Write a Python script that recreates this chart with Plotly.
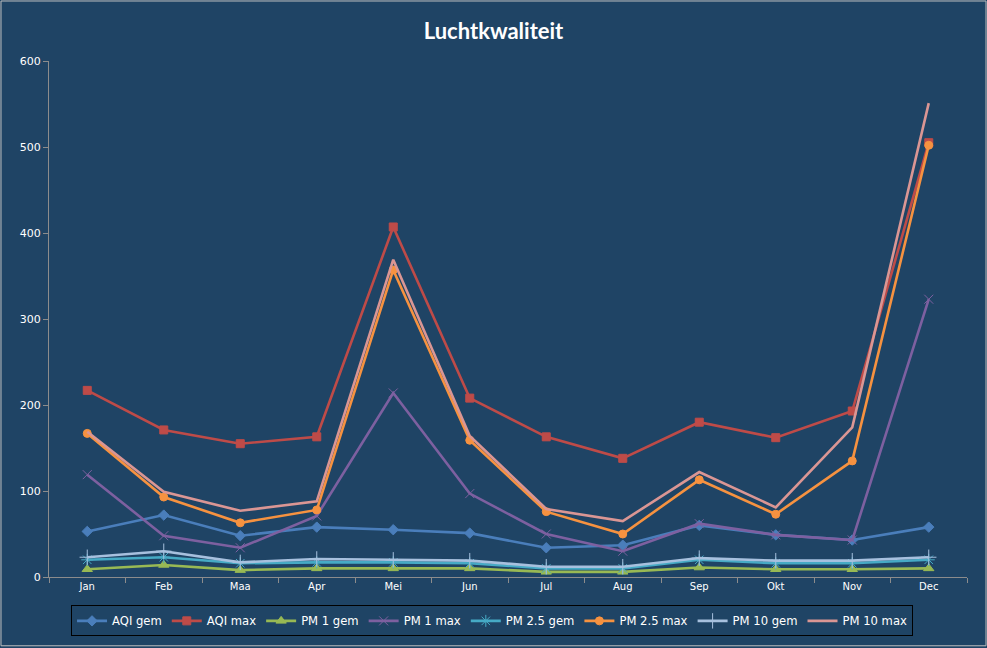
import plotly.graph_objects as go

months = ["Jan", "Feb", "Maa", "Apr", "Mei", "Jun", "Jul", "Aug", "Sep", "Okt", "Nov", "Dec"]

aqi_gem = [53, 72, 48, 58, 55, 51, 34, 37, 60, 49, 43, 58]
aqi_max = [217, 171, 155, 163, 407, 208, 163, 138, 180, 162, 193, 505]
pm1_gem = [9, 14, 8, 10, 10, 10, 6, 6, 11, 9, 9, 10]
pm1_max = [119, 48, 34, 71, 214, 97, 50, 30, 62, 49, 43, 323]
pm25_gem = [20, 23, 16, 17, 17, 16, 10, 10, 20, 16, 16, 20]
pm25_max = [167, 93, 63, 78, 357, 159, 76, 50, 113, 73, 135, 502]
pm10_gem = [23, 30, 17, 21, 20, 19, 12, 12, 22, 19, 19, 23]
pm10_max = [169, 99, 77, 88, 369, 164, 79, 65, 122, 81, 174, 551]

series = [
    ("AQI gem", aqi_gem, "#4A7EBB", "diamond", 8),
    ("AQI max", aqi_max, "#BE4B48", "square", 8),
    ("PM 1 gem", pm1_gem, "#98B954", "triangle-up", 9),
    ("PM 1 max", pm1_max, "#7D60A0", "x-thin-open", 9),
    ("PM 2.5 gem", pm25_gem, "#46AAC5", "asterisk-open", 10),
    ("PM 2.5 max", pm25_max, "#F69240", "circle", 8),
    ("PM 10 gem", pm10_gem, "#A7C0DE", "cross-thin-open", 11),
    ("PM 10 max", pm10_max, "#DA9694", None, 0),
]

fig = go.Figure()
for name, vals, col, sym, sz in series:
    if sym is None:
        fig.add_trace(go.Scatter(x=months, y=vals, name=name, mode="lines",
                                 line=dict(color=col, width=2.6)))
    else:
        fig.add_trace(go.Scatter(x=months, y=vals, name=name, mode="lines+markers",
                                 line=dict(color=col, width=2.6),
                                 marker=dict(symbol=sym, size=sz, color=col,
                                             line=dict(color=col, width=1))))

bg = "#1F4465"
fig.update_layout(
    width=987, height=648,
    paper_bgcolor=bg, plot_bgcolor=bg,
    margin=dict(l=49, r=20, t=61, b=71),
    title=dict(text="<b>Luchtkwaliteit</b>", x=0.5, xanchor="center", y=0.951, yanchor="middle",
               font=dict(family="Lato, Open Sans, sans-serif", size=22, color="white")),
    font=dict(family="DejaVu Sans, Verdana, sans-serif", size=10, color="white"),
    showlegend=True,
    legend=dict(orientation="h", x=0.4826, xanchor="center", y=-0.085, yanchor="middle",
                bordercolor="black", borderwidth=1, bgcolor=bg,
                font=dict(family="DejaVu Sans, Verdana, sans-serif", size=11.6, color="white"),
                itemwidth=30, tracegroupgap=0),
    xaxis=dict(type="category", range=[-0.5, 11.5], showgrid=False, showline=True,
               linecolor="#8C8C8C", linewidth=1,
               ticks="outside", tickson="boundaries", ticklen=5, tickcolor="#8C8C8C",
               tickfont=dict(size=10, color="white"), zeroline=False),
    yaxis=dict(range=[0, 600], dtick=100, showgrid=False, showline=True, linecolor="#8C8C8C",
               linewidth=1, ticks="outside", ticklen=5, tickcolor="#8C8C8C",
               tickfont=dict(size=11, color="white"), zeroline=False),
)

fig.add_shape(type="rect", xref="paper", yref="paper", x0=-0.0523, x1=1.0207, y0=-0.1333, y1=1.1163,
              line=dict(color="#BFBFBF", width=1), layer="below")

fig.write_html("out.html")
